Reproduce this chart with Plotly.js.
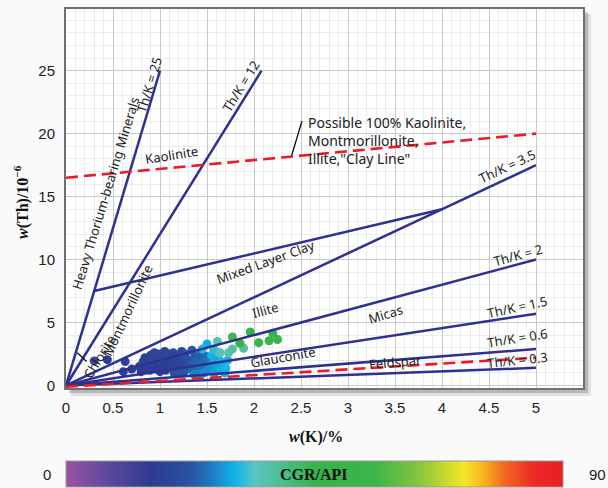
<!DOCTYPE html>
<html>
<head>
<meta charset="utf-8">
<script src="https://cdn.plot.ly/plotly-3.0.1.min.js"></script>
<style>html,body{margin:0;padding:0;background:#fafafa;}#chart{width:608px;height:488px;}</style>
</head>
<body>
<div id="chart"></div>
<script>
// ---- sample points: K (%), Th (10^-6), CGR (API) ----
const K = [
  0.30,0.44,0.63,0.61,0.70,
  0.78,0.80,0.82,0.84,0.85,0.87,0.88,0.89,0.90,0.92,0.93,0.94,0.95,0.97,0.98,0.99,1.00,1.01,1.03,1.04,1.05,1.06,1.08,1.09,1.10,1.12,1.13,1.14,1.16,1.17,1.18,1.20,1.21,1.23,1.24,1.26,1.28,
  1.15,1.20,1.25,1.27,1.29,1.31,1.32,1.34,1.35,1.37,1.38,1.40,1.41,1.43,1.44,1.46,1.47,1.49,1.50,1.52,1.53,
  1.36,1.42,1.47,1.50,1.53,1.55,1.56,1.58,1.59,1.61,1.62,1.64,1.65,1.67,1.69,1.70,1.72,1.45,1.57,
  1.61,1.64,1.73,1.77,1.89,
  1.77,1.85,1.96,2.05,2.16,2.20,2.25
];
const Th = [
  1.95,2.05,1.9,1.1,1.3,
  1.5,1.1,1.9,2.2,1.4,1.7,2.0,1.2,2.4,1.6,1.9,2.6,1.3,2.1,1.7,2.5,1.1,1.9,2.3,1.5,2.7,1.2,2.0,2.5,1.7,2.2,1.4,2.6,1.9,1.2,2.3,1.6,2.0,2.7,1.4,2.2,1.8,
  1.0,1.1,1.0,2.5,1.3,2.0,1.6,2.8,1.2,2.3,1.8,1.0,2.1,1.5,2.6,1.2,1.9,2.3,1.4,1.7,2.1,
  0.9,0.95,1.0,3.3,1.3,2.4,1.8,1.0,2.1,1.5,2.6,1.2,1.9,1.6,1.0,1.35,2.0,2.9,2.9,
  3.5,2.6,2.6,2.9,2.95,
  3.85,3.35,4.25,3.4,3.55,4.15,3.65
];
const CGR = [
  12,16,17,17,17,
  17,16,18,17,16,18,17,16,18,17,19,18,17,18,16,19,17,18,19,17,18,16,18,19,17,19,18,19,18,17,19,18,19,20,18,20,19,
  21,22,22,22,23,22,23,23,24,23,24,24,24,25,24,25,25,25,26,26,26,
  27,27,28,30,28,31,29,29,30,29,32,30,31,30,30,31,31,31,32,
  36,35,36,37,38,
  44,45,46,47,48,48,49
];

// ---- reference lines ----
const refLineX0 = [0, 0, 0, 0, 0, 0, 0, 0.30];
const refLineY0 = [0, 0, 0, 0, 0, 0, 0, 7.5];
const refLineX1 = [1.0, 2.08, 5, 5, 5, 5, 5, 4.0];
const refLineY1 = [25, 25, 17.5, 10, 5.7, 2.9, 1.4, 14.0];
const clayLineX = [[0, 5], [0, 5]];
const clayLineY = [[16.5, 20], [-0.1, 2.2]];
const pointerX = [[2.51, 2.40], [0.12, 0.22]];
const pointerY = [[21.0, 18.25], [2.6, 1.9]];

// ---- labels ----
const labelText = ["Th/K = 25","Th/K = 12","Heavy Thorium-bearing Minerals","Kaolinite",
  "Th/K = 3.5","Th/K = 2","Th/K = 1.5","Th/K = 0.6","Th/K = 0.3","Micas","Feldspar",
  "Glauconite","Illite","Mixed Layer Clay","Montmorillonite","Chlorite"];
const labelX = [0.88,1.86,0.42,1.12,4.70,4.81,4.80,4.80,4.80,3.40,3.50,2.31,2.12,2.12,0.65,0.35];
const labelY = [23.9,23.8,15.3,18.3,17.4,10.4,6.2,3.8,2.06,5.7,1.9,2.3,6.0,9.8,5.95,2.3];
const labelAngle = [-73,-58,-73,-9,-25,-15,-12,-9,-6,-17,-5,-10,-15,-20,-65,-58];
const clayNote = "Possible 100% Kaolinite,<br>Montmorillonite,<br>Illite,\"Clay Line\"";
const clayNoteX = 2.55, clayNoteY = 19.45;

const xTicks = [0,0.5,1,1.5,2,2.5,3,3.5,4,4.5,5];
const xTickText = ["0","0.5","1","1.5","2","2.5","3","3.5","4","4.5","5"];
const yTicks = [0,5,10,15,20,25];
const cgrMin = 0, cgrMax = 90;

const colorscale = [
  [0,'#9b53a0'],[0.08,'#5e4a9e'],[0.17,'#2e3b8f'],[0.25,'#2a52a0'],[0.29,'#1f78c0'],
  [0.34,'#11b3e8'],[0.38,'#5bc4c3'],[0.44,'#4bbd8a'],[0.5,'#36b34b'],[0.62,'#3cb54a'],
  [0.7,'#7dc242'],[0.76,'#c2d82f'],[0.8,'#f2e827'],[0.84,'#f9b51e'],[0.88,'#f26b21'],
  [0.94,'#ed2b26'],[1,'#ec1c24']
];

const traces = [];
traces.push({
  type:'scatter', mode:'markers', x:K, y:Th, hoverinfo:'skip', showlegend:false,
  marker:{size:9, color:CGR, cmin:cgrMin, cmax:cgrMax, colorscale:colorscale, line:{width:0},
    colorbar:{orientation:'h', thickness:26, thicknessmode:'pixels', len:497, lenmode:'pixels',
      x:0.4807, xanchor:'center', y:-0.1926, yanchor:'top', xpad:0, ypad:0,
      outlinewidth:1, outlinecolor:'#9a9a9a', showticklabels:false, ticks:''}}
});
for (let i=0;i<refLineX0.length;i++){
  traces.push({type:'scatter', mode:'lines', x:[refLineX0[i],refLineX1[i]], y:[refLineY0[i],refLineY1[i]],
    line:{color:'#2e3192', width:2.5}, hoverinfo:'skip', showlegend:false});
}
for (let i=0;i<clayLineX.length;i++){
  traces.push({type:'scatter', mode:'lines', x:clayLineX[i], y:clayLineY[i],
    line:{color:'#ec1c24', width:2.6, dash:'12px,6px'}, hoverinfo:'skip', showlegend:false});
}
for (let i=0;i<pointerX.length;i++){
  traces.push({type:'scatter', mode:'lines', x:pointerX[i], y:pointerY[i],
    line:{color:'#111', width:1.3}, hoverinfo:'skip', showlegend:false});
}

const annFont = {family:'"Noto Sans", "Open Sans", sans-serif', size:13, color:'#222'};
const annotations = labelText.map((t,i)=>({x:labelX[i], y:labelY[i], xref:'x', yref:'y', text:t,
  textangle:labelAngle[i], showarrow:false, xanchor:'center', yanchor:'middle', font:annFont}));
annotations.push({x:clayNoteX, y:clayNoteY, xref:'x', yref:'y', text:clayNote, showarrow:false,
  xanchor:'left', yanchor:'middle', align:'left', font:{family:annFont.family, size:14, color:'#222'}});
const serif = {family:'"Liberation Serif", serif', size:16, color:'#111'};
const sans = {family:'"Liberation Sans", sans-serif', size:15, color:'#222'};
function paperNote(px_, py_, text, font, angle){
  return {x:(px_-66)/517, y:(388-py_)/379, xref:'paper', yref:'paper', showarrow:false,
    xanchor:'center', yanchor:'middle', text:text, font:font, textangle:angle||0};
}
annotations.push(paperNote(316, 437, '<b><i>w</i>(K)/%</b>', serif));
annotations.push(paperNote(21, 202, '<b><i>w</i>(Th)/10<sup>−6</sup></b>', serif, -90));
annotations.push(paperNote(314, 474, '<b>CGR/API</b>', serif));
annotations.push(paperNote(47, 474, String(cgrMin), sans));
annotations.push(paperNote(597, 474, String(cgrMax), sans));

const px = 1/517, py = 1/379;
const layout = {
  width:608, height:488,
  margin:{l:66, r:25, t:9, b:100, autoexpand:false},
  paper_bgcolor:'#fafafa', plot_bgcolor:'rgba(0,0,0,0)',
  showlegend:false,
  xaxis:{range:[0,5.5], tickvals:xTicks, ticktext:xTickText, showgrid:true, gridcolor:'#c9c9c9', gridwidth:1,
    minor:{dtick:0.1, showgrid:true, gridcolor:'#ececec', gridwidth:1},
    zeroline:false, showline:true, mirror:true, linecolor:'#707070', linewidth:2, ticks:'', ticklabelstandoff:5,
    tickfont:sans},
  yaxis:{range:[-0.2,29.9], tickvals:yTicks, showgrid:true, gridcolor:'#c9c9c9', gridwidth:1,
    minor:{dtick:1, tick0:0, showgrid:true, gridcolor:'#ececec', gridwidth:1},
    zeroline:false, showline:true, mirror:true, linecolor:'#707070', linewidth:2, ticks:'', ticklabelstandoff:6,
    tickfont:sans},
  shapes:[
    {type:'rect', xref:'paper', yref:'paper', x0:5*px, x1:1+8*px, y0:-8*py, y1:1-5*py, fillcolor:'rgba(0,0,0,0.10)', line:{width:0}, layer:'below'},
    {type:'rect', xref:'paper', yref:'paper', x0:3*px, x1:1+5*px, y0:-5*py, y1:1-3*py, fillcolor:'rgba(0,0,0,0.18)', line:{width:0}, layer:'below'},
    {type:'rect', xref:'paper', yref:'paper', x0:0, x1:1, y0:0, y1:1, fillcolor:'#ffffff', line:{width:0}, layer:'below'}
  ],
  annotations:annotations
};
Plotly.newPlot('chart', traces, layout, {staticPlot:true, displayModeBar:false});
</script>
</body>
</html>
